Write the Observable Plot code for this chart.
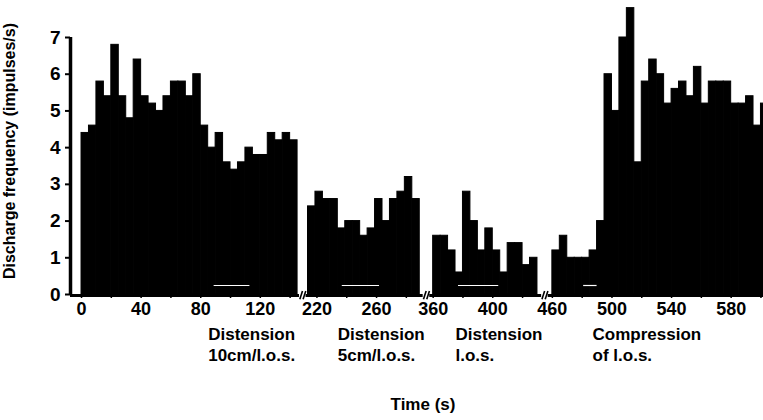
<!DOCTYPE html>
<html><head><meta charset="utf-8">
<script src="https://cdn.jsdelivr.net/npm/d3@7"></script>
<script src="https://cdn.jsdelivr.net/npm/@observablehq/plot@0.6"></script>
<style>body{margin:0;overflow:hidden;background:#fff}</style>
</head><body><div id="chart"></div>
<script>
// ---- data ----
const binWidth = 5; // s
const seg1Values = [4.4,4.6,5.8,5.4,6.8,5.4,4.8,6.4,5.4,5.2,5.0,5.4,5.8,5.8,5.4,6.0,4.6,4.0,4.4,3.6,3.4,3.6,4.0,3.8,3.8,4.4,4.2,4.4,4.2];
const seg2Values = [2.4,2.8,2.6,2.6,1.8,2.0,2.0,1.6,1.8,2.6,2.0,2.6,2.8,3.2,2.6];
const seg3Values = [1.6,1.6,1.2,0.6,2.8,2.0,1.2,1.8,1.2,0.6,1.4,1.4,0.8,1.0];
const seg4Values = [1.2,1.6,1.0,1.0,1.0,1.2,2.0,6.0,5.0,7.0,7.8,3.6,5.8,6.4,6.0,5.2,5.6,5.8,5.4,6.2,5.2,5.8,5.8,5.8,5.2,5.2,5.4,4.6,5.2];
const segmentValues = [seg1Values, seg2Values, seg3Values, seg4Values];
const segmentRealStart = [0, 214, 360, 460];     // real time at start of each segment (s)
const segmentDisplayStart = [0, 152, 236, 316];  // position on the broken axis
const majorTicks = [0,40,80,120,220,260,360,400,460,500,540,580];
const minorTicks = [20,60,100,140,240,280,380,420,480,520,560,600];
const yTicks = [0,1,2,3,4,5,6,7];
const conditionLabels = ["Distension\n10cm/l.o.s.", "Distension\n5cm/l.o.s.", "Distension\nl.o.s.", "Compression\nof l.o.s."];
const conditionStart = [85, 234, 375, 487];
const stimulusStart = [89, 237, 377, 481];
const stimulusEnd = [113, 262, 404, 490];

// ---- helpers ----
function toDisplay(t) {
  let i = 0;
  for (let k = 0; k < segmentRealStart.length; k++) if (t >= segmentRealStart[k]) i = k;
  return t - segmentRealStart[i] + segmentDisplayStart[i];
}
const bars = segmentValues.flatMap((vals, i) => vals.map((v, j) => ({
  x1: segmentDisplayStart[i] + j * binWidth,
  x2: segmentDisplayStart[i] + (j + 1) * binWidth,
  y: v
})));
const segEnds = segmentValues.map((vals, i) => segmentDisplayStart[i] + vals.length * binWidth);
const breaks = segEnds.slice(0, -1).map((e, i) => (e + segmentDisplayStart[i + 1]) / 2);
const xDomain = [-7.4, 457.7];
const axisSegs = segmentDisplayStart.map((s, i) => ({
  x1: i === 0 ? xDomain[0] : breaks[i - 1] + 2.2,
  x2: i === segmentDisplayStart.length - 1 ? xDomain[1] : breaks[i] - 2.2
}));
// two slanted strokes per axis break
const slashes = breaks.flatMap(b => [-1, 1].map(k => ({x1: b + k * 1.1 - 0.9, x2: b + k * 1.1 + 0.9})));
const labelMap = new Map(majorTicks.map(t => [toDisplay(t), String(t)]));
const allTicks = [...majorTicks, ...minorTicks].map(toDisplay);
const stim = stimulusStart.map((s, i) => ({x1: toDisplay(s), x2: toDisplay(stimulusEnd[i])}));
const conds = conditionLabels.map((l, i) => ({x: toDisplay(conditionStart[i]), text: l}));

const font = "'Liberation Sans', Arial, Helvetica, sans-serif";
const chart = Plot.plot({
  width: 763,
  height: 420,
  marginLeft: 70,
  marginRight: 0,
  marginTop: 37,
  marginBottom: 126,
  style: {fontFamily: font, color: "black", background: "white"},
  x: {domain: xDomain, axis: null},
  y: {domain: [0, 7], axis: null},
  marks: [
    Plot.rectY(bars, {x1: "x1", x2: "x2", y: "y", fill: "black", stroke: "black", strokeWidth: 1}),
    Plot.ruleY(stim, {x1: "x1", x2: "x2", y: () => 0, dy: -9, stroke: "white", strokeWidth: 1.2}),
    Plot.ruleY(axisSegs, {x1: "x1", x2: "x2", y: () => 0, dy: 1, stroke: "black", strokeWidth: 3}),
    Plot.link(slashes, {x1: "x1", x2: "x2", y1: () => -0.1, y2: () => 0.12, dy: 1, stroke: "black", strokeWidth: 1.6}),
    Plot.ruleX([xDomain[0]], {y1: 0, y2: 7, stroke: "black", strokeWidth: 3.5}),
    Plot.axisY({ticks: yTicks, tickFormat: d => String(d), tickSize: 5, tickPadding: 5, strokeWidth: 2, fontSize: 19, fontWeight: "bold", label: null}),
    Plot.axisX({ticks: allTicks, tickFormat: d => labelMap.get(d) ?? "", tickSize: 4, tickPadding: 4, strokeWidth: 1.5, fontSize: 18, fontWeight: "bold", label: null}),
    Plot.text(conds, {x: "x", y: () => 0, text: "text", textAnchor: "start", lineAnchor: "top", dy: 31, fontSize: 17, fontWeight: "bold", lineHeight: 1.22}),
    Plot.text(["Time (s)"], {text: d => d, frameAnchor: "bottom", textAnchor: "middle", dy: 115, dx: 6, fontSize: 17, fontWeight: "bold"}),
    Plot.text(["Discharge frequency (impulses/s)"], {text: d => d, frameAnchor: "left", textAnchor: "middle", rotate: -90, dx: -61, dy: -15, fontSize: 16, fontWeight: "bold"})
  ]
});
document.getElementById("chart").appendChild(chart);
</script>
</body></html>
